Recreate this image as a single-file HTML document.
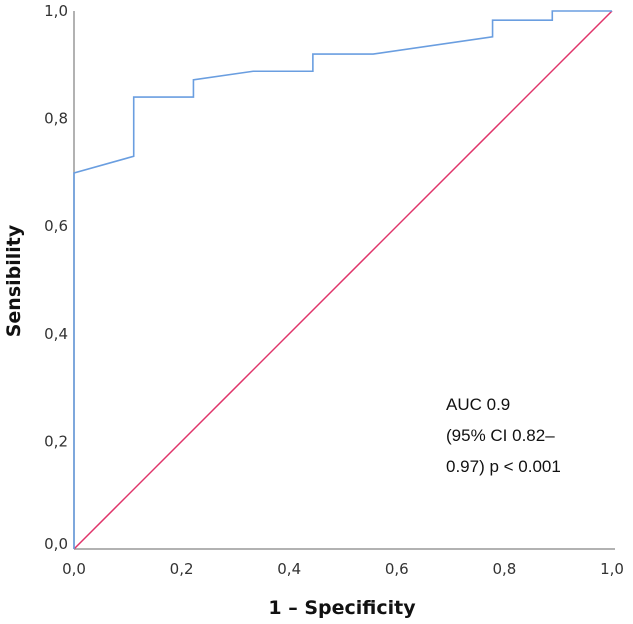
<!DOCTYPE html>
<html><head><meta charset="utf-8"><style>
body{margin:0;background:#fff;}
svg{display:block;font-family:"DejaVu Sans","Liberation Sans",sans-serif;}
</style></head><body>
<svg id="chart" width="633" height="624" viewBox="0 0 633 624"></svg>
<script>
const fpr=[0,0,0.111,0.111,0.222,0.222,0.333,0.444,0.444,0.556,0.778,0.778,0.889,0.889,1];
const tpr=[0,0.699,0.730,0.840,0.840,0.872,0.888,0.888,0.920,0.920,0.952,0.983,0.983,1,1];
const ticks=[0,0.2,0.4,0.6,0.8,1.0];
const tickLabels=["0,0","0,2","0,4","0,6","0,8","1,0"];
const X0=74,X1=612,Y0=549,Y1=11;
const sx=v=>X0+v*(X1-X0), sy=v=>Y0-v*(Y0-Y1);
const svg=document.getElementById('chart');const NS='http://www.w3.org/2000/svg';
function mk(t,a,p){const e=document.createElementNS(NS,t);for(const k in a)e.setAttribute(k,a[k]);(p||svg).appendChild(e);return e;}
let e=mk('line',{x1:X0,y1:Y0,x2:X1+3,y2:Y0,stroke:'#999','stroke-width':1.5});


e=mk('line',{x1:X0,y1:Y0,x2:X0,y2:Y1,stroke:'#999','stroke-width':1.5});


ticks.forEach((t,i)=>{
 let a=mk('text',{x:sx(t),y:574,'text-anchor':'middle','font-size':15,fill:'#333'});a.textContent=tickLabels[i];
 
 
 let b=mk('text',{x:68,y:sy(t)+(i==0?0:5),'text-anchor':'end','font-size':15,fill:'#333'});b.textContent=tickLabels[i];
 
 
});
e=mk('line',{x1:sx(0),y1:sy(0),x2:sx(1),y2:sy(1),stroke:'#e0346a','stroke-width':1.5});


e=mk('polyline',{points:fpr.map((f,i)=>sx(f)+','+sy(tpr[i])).join(' '),fill:'none',stroke:'#6a9ee0','stroke-width':1.6});


const ann=["AUC 0.9","(95% CI 0.82–","0.97) p < 0.001"];
ann.forEach((s,i)=>{let t=mk('text',{x:446,y:410+i*31,'font-size':17,fill:'#111','font-family':'Liberation Sans, sans-serif'});t.textContent=s;
 
 });
e=mk('text',{x:342,y:614,'text-anchor':'middle','font-size':19,'font-weight':'bold',fill:'#111'});e.textContent='1 – Specificity';


e=mk('text',{x:0,y:0,'text-anchor':'middle','font-size':19,'font-weight':'bold',fill:'#111',transform:'translate(20,281) rotate(-90)'});e.textContent='Sensibility';


</script>
</body></html>
